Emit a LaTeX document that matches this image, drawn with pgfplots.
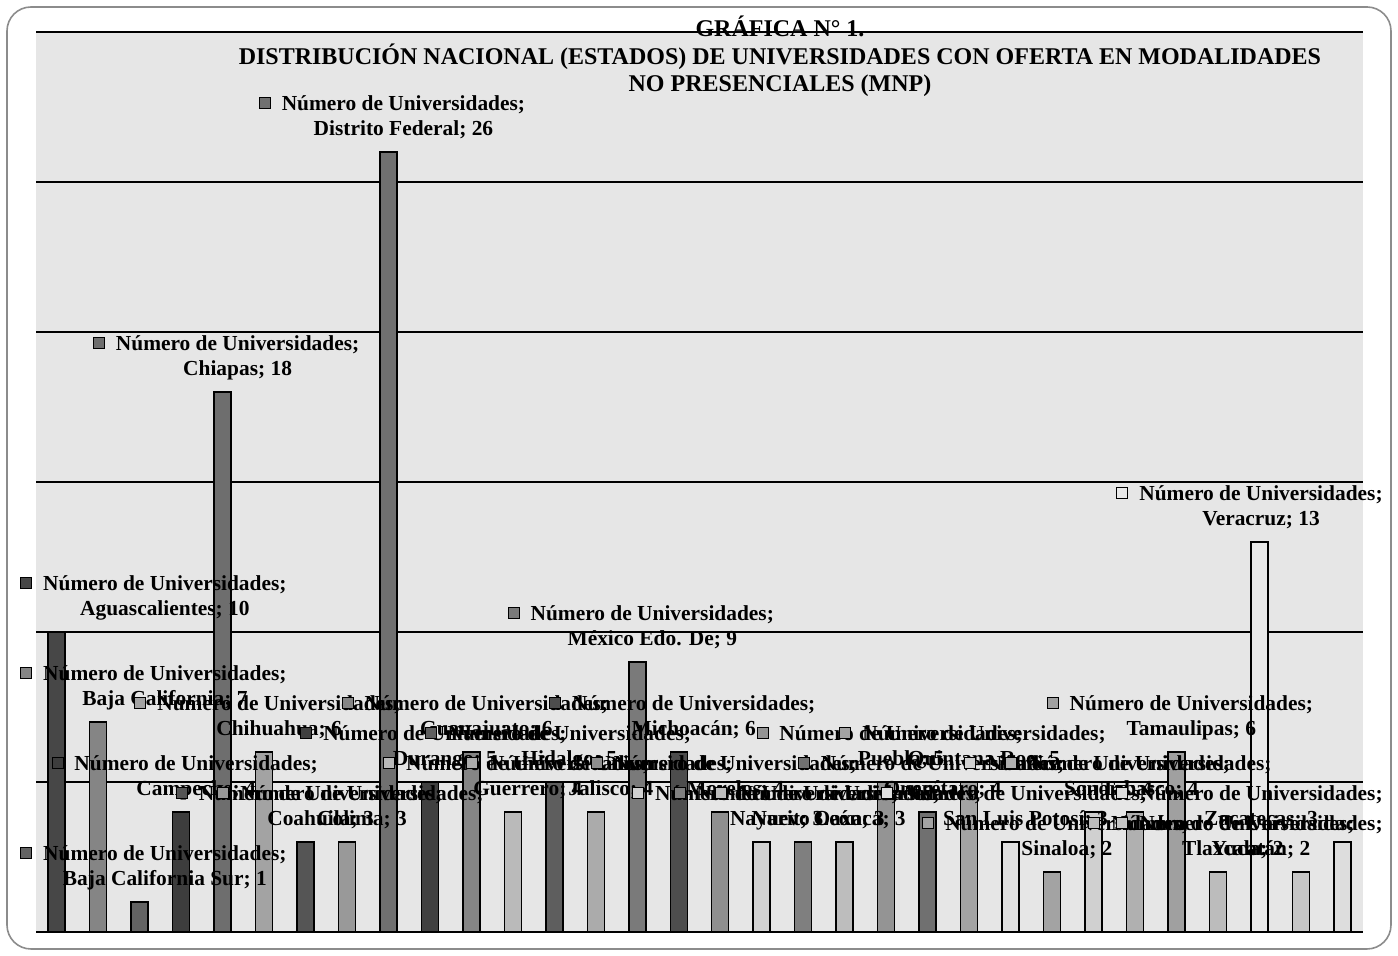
\documentclass[border=0pt]{standalone}
\usepackage{fontspec}
\setmainfont{Liberation Serif}
\usepackage{pgfplots}
\pgfplotsset{compat=1.18}

\definecolor{bgc}{HTML}{E6E6E6}
\definecolor{frm}{HTML}{8C8C8C}
\definecolor{c0}{HTML}{474747}
\definecolor{c1}{HTML}{858585}
\definecolor{c2}{HTML}{636363}
\definecolor{c3}{HTML}{3D3D3D}
\definecolor{c4}{HTML}{6E6E6E}
\definecolor{c5}{HTML}{A3A3A3}
\definecolor{c6}{HTML}{555555}
\definecolor{c7}{HTML}{999999}
\definecolor{c8}{HTML}{707070}
\definecolor{c9}{HTML}{404040}
\definecolor{c10}{HTML}{858585}
\definecolor{c11}{HTML}{BABABA}
\definecolor{c12}{HTML}{5E5E5E}
\definecolor{c13}{HTML}{ABABAB}
\definecolor{c14}{HTML}{7A7A7A}
\definecolor{c15}{HTML}{4D4D4D}
\definecolor{c16}{HTML}{8F8F8F}
\definecolor{c17}{HTML}{D1D1D1}
\definecolor{c18}{HTML}{7F7F7F}
\definecolor{c19}{HTML}{BDBDBD}
\definecolor{c20}{HTML}{949494}
\definecolor{c21}{HTML}{707070}
\definecolor{c22}{HTML}{A3A3A3}
\definecolor{c23}{HTML}{E0E0E0}
\definecolor{c24}{HTML}{A3A3A3}
\definecolor{c25}{HTML}{D0D0D0}
\definecolor{c26}{HTML}{B0B0B0}
\definecolor{c27}{HTML}{A0A0A0}
\definecolor{c28}{HTML}{BCBCBC}
\definecolor{c29}{HTML}{E9E9E9}
\definecolor{c30}{HTML}{C6C6C6}
\definecolor{c31}{HTML}{DDDDDD}

\pgfplotsset{b/.style={ybar, bar width=8.5pt, bar shift=0pt, draw=black, line width=0.75pt, fill=#1}}

\newcommand{\lab}[4]{%
  \node[inner sep=0pt, anchor=base, yshift=20.5pt, font=\fontsize{10.7pt}{12.5pt}\bfseries] (L1) at (axis cs:#1,#2) {Número de Universidades;};
  \node[inner sep=0pt, anchor=base, font=\fontsize{10.7pt}{12.5pt}\bfseries] at ([yshift=-12.5pt]L1.base) {#4};
  \draw[fill=#3, line width=0.5pt] ([xshift=-11pt,yshift=1.25pt]L1.base west) rectangle ([xshift=-5.5pt,yshift=6.75pt]L1.base west);
}

\begin{document}
\begin{tikzpicture}
\useasboundingbox (0,0) rectangle (699pt,478pt);
\draw[frm, line width=0.8pt, rounded corners=12pt] (3.5pt,3.5pt) rectangle (695.5pt,474.5pt);
\begin{axis}[
  at={(18pt,12pt)}, anchor=south west,
  scale only axis, width=663.5pt, height=450pt,
  xmin=-0.5, xmax=31.5, ymin=0, ymax=30,
  ytick={0,5,...,30}, yticklabels={}, xtick=\empty,
  ymajorgrids, major grid style={black, line width=0.75pt},
  axis line style={draw=none}, tick style={draw=none},
  axis background/.style={fill=bgc},
  clip=false,
]
\addplot[b=c0] coordinates {(0,10)};
\addplot[b=c1] coordinates {(1,7)};
\addplot[b=c2] coordinates {(2,1)};
\addplot[b=c3] coordinates {(3,4)};
\addplot[b=c4] coordinates {(4,18)};
\addplot[b=c5] coordinates {(5,6)};
\addplot[b=c6] coordinates {(6,3)};
\addplot[b=c7] coordinates {(7,3)};
\addplot[b=c8] coordinates {(8,26)};
\addplot[b=c9] coordinates {(9,5)};
\addplot[b=c10] coordinates {(10,6)};
\addplot[b=c11] coordinates {(11,4)};
\addplot[b=c12] coordinates {(12,5)};
\addplot[b=c13] coordinates {(13,4)};
\addplot[b=c14] coordinates {(14,9)};
\addplot[b=c15] coordinates {(15,6)};
\addplot[b=c16] coordinates {(16,4)};
\addplot[b=c17] coordinates {(17,3)};
\addplot[b=c18] coordinates {(18,3)};
\addplot[b=c19] coordinates {(19,3)};
\addplot[b=c20] coordinates {(20,5)};
\addplot[b=c21] coordinates {(21,4)};
\addplot[b=c22] coordinates {(22,5)};
\addplot[b=c23] coordinates {(23,3)};
\addplot[b=c24] coordinates {(24,2)};
\addplot[b=c25] coordinates {(25,4)};
\addplot[b=c26] coordinates {(26,4)};
\addplot[b=c27] coordinates {(27,6)};
\addplot[b=c28] coordinates {(28,2)};
\addplot[b=c29] coordinates {(29,13)};
\addplot[b=c30] coordinates {(30,2)};
\addplot[b=c31] coordinates {(31,3)};

\lab{2.608}{10}{c0}{Aguascalientes; 10}
\lab{2.608}{7}{c1}{Baja California; 7}
\lab{2.608}{1}{c2}{Baja California Sur; 1}
\lab{3.361}{4}{c3}{Campeche; 4}
\lab{4.361}{18}{c4}{Chiapas; 18}
\lab{5.361}{6}{c5}{Chihuahua; 6}
\lab{6.361}{3}{c6}{Coahuila; 3}
\lab{7.361}{3}{c7}{Colima; 3}
\lab{8.361}{26}{c8}{Distrito Federal; 26}
\lab{9.361}{5}{c9}{Durango; 5}
\lab{10.361}{6}{c10}{Guanajuato; 6}
\lab{11.361}{4}{c11}{Guerrero; 4}
\lab{12.361}{5}{c12}{Hidalgo; 5}
\lab{13.361}{4}{c13}{Jalisco; 4}
\lab{14.361}{9}{c14}{México Edo. De; 9}
\lab{15.361}{6}{c15}{Michoacán; 6}
\lab{16.361}{4}{c16}{Morelos; 4}
\lab{17.361}{3}{c17}{Nayarit; 3}
\lab{18.361}{3}{c18}{Nuevo León; 3}
\lab{19.361}{3}{c19}{Oaxaca; 3}
\lab{20.361}{5}{c20}{Puebla; 5}
\lab{21.361}{4}{c21}{Querétaro; 4}
\lab{22.361}{5}{c22}{Quintana Roo; 5}
\lab{23.361}{3}{c23}{San Luis Potosí; 3}
\lab{24.361}{2}{c24}{Sinaloa; 2}
\lab{25.361}{4}{c25}{Sonora; 4}
\lab{26.361}{4}{c26}{Tabasco; 4}
\lab{27.361}{6}{c27}{Tamaulipas; 6}
\lab{28.361}{2}{c28}{Tlaxcala; 2}
\lab{29.04}{13}{c29}{Veracruz; 13}
\lab{29.04}{2}{c30}{Yucatán; 2}
\lab{29.04}{3}{c31}{Zacatecas; 3}
\end{axis}
\node[anchor=base, inner sep=0pt, font=\fontsize{12pt}{14pt}\bfseries] at (390pt,459.5pt) {GRÁFICA N° 1.};
\node[anchor=base, inner sep=0pt, font=\fontsize{12pt}{14pt}\bfseries] at (390pt,445.5pt) {DISTRIBUCIÓN NACIONAL (ESTADOS) DE UNIVERSIDADES CON OFERTA EN MODALIDADES};
\node[anchor=base, inner sep=0pt, font=\fontsize{12pt}{14pt}\bfseries] at (390pt,432pt) {NO PRESENCIALES (MNP)};
\end{tikzpicture}
\end{document}
